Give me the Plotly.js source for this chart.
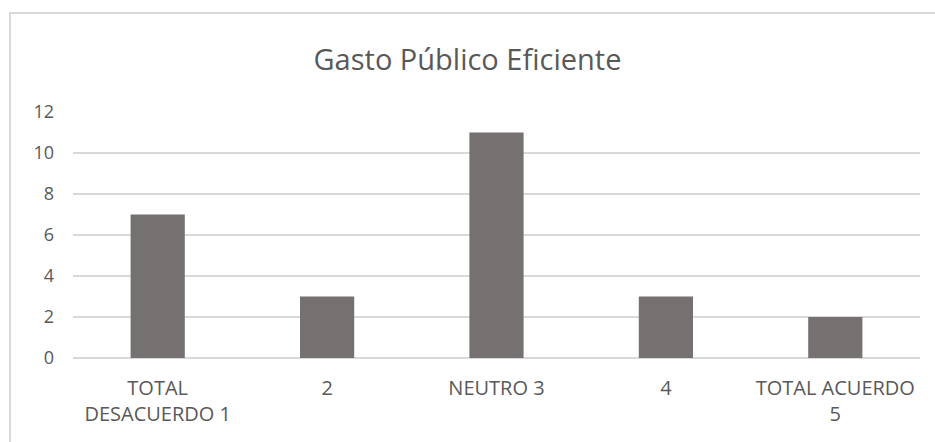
<!DOCTYPE html>
<html>
<head>
<meta charset="utf-8">
<script src="https://cdn.plot.ly/plotly-3.0.1.min.js"></script>
<style>
html,body{margin:0;padding:0;background:#fff;}
#chart{width:935px;height:442px;}
</style>
</head>
<body>
<div id="chart"></div>
<script>
const categories = ["TOTAL<br>DESACUERDO 1", "2", "NEUTRO 3", "4", "TOTAL ACUERDO<br>5"];
const values = [7, 3, 11, 3, 2];
const yTicks = [0, 2, 4, 6, 8, 10, 12];
const chartTitle = "Gasto Público Eficiente";

const textColor = "#595959";
const fontFamily = "Open Sans, sans-serif";

const data = [{
  type: "bar",
  x: categories,
  y: values,
  marker: {color: "#767171"},
  width: 0.32,
  hoverinfo: "x+y"
}];

const layout = {
  width: 935,
  height: 442,
  margin: {l: 73, r: 15, t: 112, b: 84},
  paper_bgcolor: "#ffffff",
  plot_bgcolor: "#ffffff",
  showlegend: false,
  title: {
    text: chartTitle,
    font: {family: fontFamily, size: 29, color: textColor},
    x: 0.5, xanchor: "center",
    y: 1 - 60/442, yanchor: "middle", yref: "container"
  },
  xaxis: {
    type: "category",
    tickfont: {family: fontFamily, size: 20, color: textColor},
    showgrid: false,
    showline: false,
    zeroline: false,
    ticks: "",
    ticklen: 0,
    ticklabelstandoff: 16
  },
  yaxis: {
    range: [0, 12],
    tickvals: yTicks,
    ticktext: yTicks.map(String),
    tickfont: {family: fontFamily, size: 18, color: textColor},
    showgrid: true,
    gridcolor: "#d9d9d9",
    gridwidth: 1.5,
    zeroline: true,
    zerolinecolor: "#d9d9d9",
    zerolinewidth: 1.5,
    showline: false,
    ticks: "",
    ticklabelstandoff: 18,
    fixedrange: true
  },
  shapes: [{
    type: "rect",
    xref: "paper", yref: "paper",
    x0: (10 - 73) / 847, x1: (945 - 73) / 847,
    y0: (358 - 460) / 246, y1: (358 - 13) / 246,
    line: {color: "#d9d9d9", width: 2},
    fillcolor: "rgba(0,0,0,0)",
    layer: "below"
  }]
};

Plotly.newPlot("chart", data, layout, {displayModeBar: false, staticPlot: true});
</script>
</body>
</html>
